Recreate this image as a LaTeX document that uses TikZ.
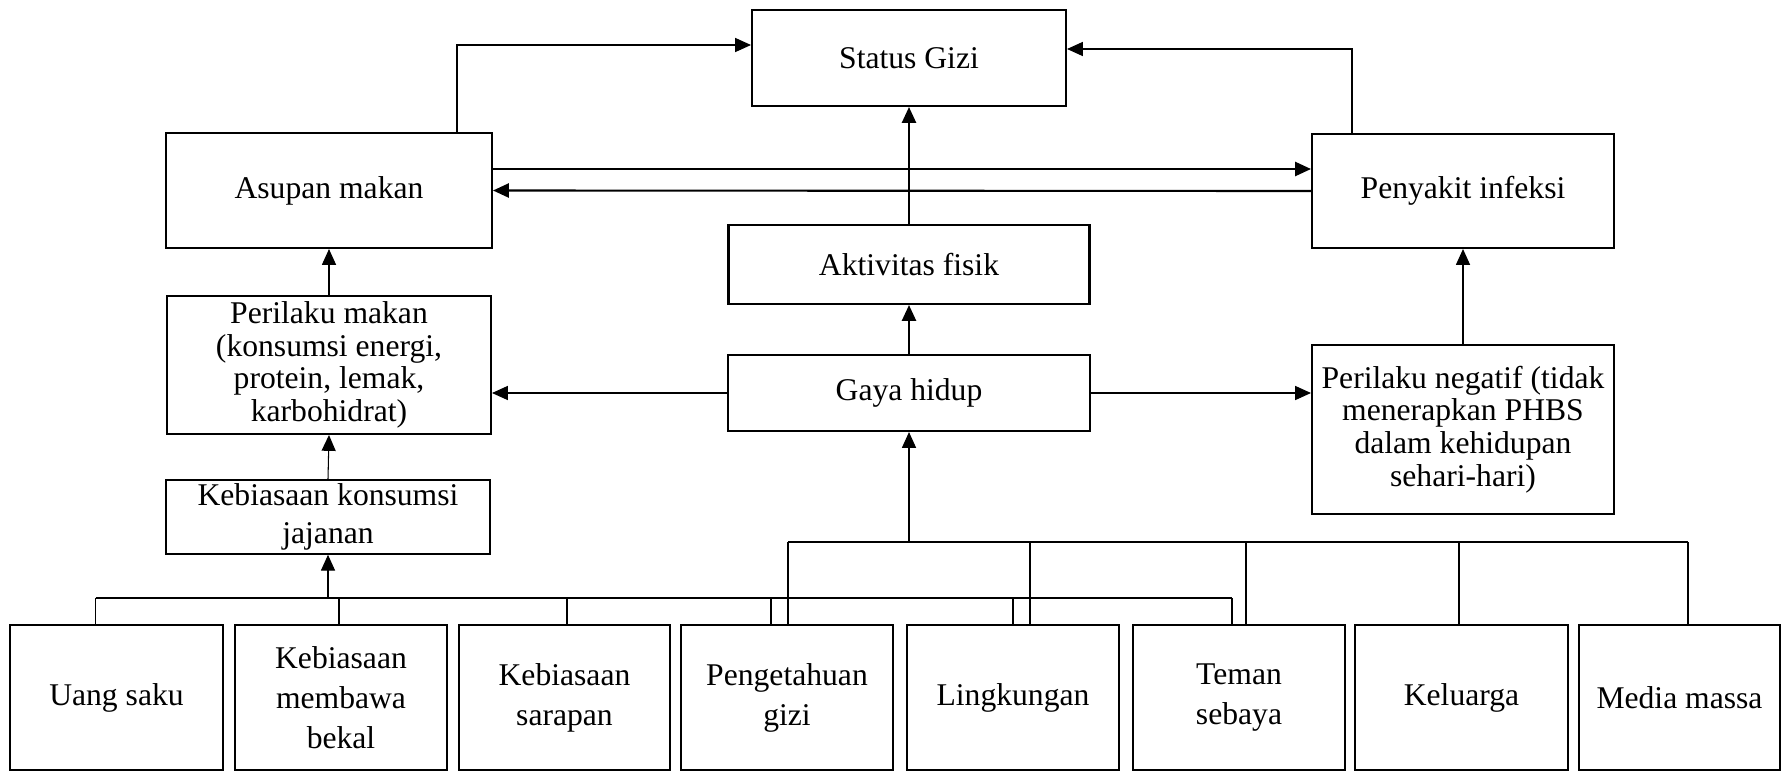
\documentclass[tikz,border=0pt]{standalone}
\usepackage{fontspec}
\setmainfont{Liberation Serif}
\usetikzlibrary{arrows.meta,positioning,calc}

\tikzset{
  kotak/.style={draw, line width=1.2pt, align=center, inner sep=2pt,
    font=\fontsize{18}{18.6}\selectfont},
  bawah/.style={minimum height=2.9cm, font=\fontsize{18}{22.7}\selectfont},
  garis/.style={line width=0.6pt},
  panah/.style={-{Triangle[length=9pt,width=8pt]}, line width=0.6pt},
  panahtebal/.style={-{Triangle[length=9pt,width=8pt]}, line width=1.2pt},
}

\begin{document}
\begin{tikzpicture}[x=0.02cm, y=-0.02cm]
\useasboundingbox (0,0) rectangle (1782,771);

% kotak utama
\node[kotak, minimum width=6.28cm, minimum height=1.92cm] (status) at (909,58) {Status Gizi};
\node[kotak, minimum width=6.52cm, minimum height=2.3cm] (asupan) at (329,190.5) {Asupan makan};
\node[kotak, minimum width=6.04cm, minimum height=2.28cm] (infeksi) at (1463,191) {Penyakit infeksi};
\node[kotak, minimum width=7.22cm, minimum height=1.58cm] (aktivitas) at (909,264.5) {Aktivitas fisik};
\node[kotak, minimum width=7.24cm, minimum height=1.52cm] (gaya) at (909,393) {Gaya hidup};
\node[kotak, minimum width=6.48cm, minimum height=2.76cm] (perilaku) at (329,365)
  {Perilaku makan\\(konsumsi energi,\\protein, lemak,\\karbohidrat)};
\node[kotak, minimum width=6.04cm, minimum height=3.38cm] (negatif) at (1463,429.5)
  {Perilaku negatif (tidak\\menerapkan PHBS\\dalam kehidupan\\sehari-hari)};
\node[kotak, minimum width=6.48cm, minimum height=1.4cm, font=\fontsize{18}{21.5}\selectfont]
  (jajanan) at (328,517) {Kebiasaan konsumsi\\jajanan};

% kotak bawah
\foreach \nama/\x/\lebar/\teks in {b1/116.5/4.26/{Uang saku}, b2/341/4.24/{Kebiasaan\\membawa\\bekal},
    b3/564.5/4.22/{Kebiasaan\\sarapan}, b4/787/4.24/{Pengetahuan\\gizi}, b5/1013/4.24/{Lingkungan},
    b6/1239/4.24/{Teman\\sebaya}, b7/1461.5/4.26/{Keluarga}, b8/1679.5/4.02/{Media massa}}
  \node[kotak, bawah, minimum width=\lebar cm] (\nama) at (\x,697.5) {\teks};

% panah atas
\coordinate (kiri) at (457,45);
\coordinate (kanan) at (1352,49);
\coordinate (atas) at (0,169);
\draw[panah] (asupan.north -| kiri) |- (status.west |- kiri);
\draw[panah] (infeksi.north -| kanan) |- (status.east |- kanan);
\draw[panahtebal] (asupan.east |- atas) -- (infeksi.west |- atas);
\draw[panahtebal] (infeksi.west) -- (asupan.east);
\draw[panahtebal] (gaya.north) -- (aktivitas.south);
\draw[panahtebal] (aktivitas.north) -- (status.south);
\draw[panah] (gaya.west) -- (perilaku.east |- gaya.west);
\draw[panah] (gaya.east) -- (negatif.west |- gaya.east);
\draw[panah] (perilaku.north) -- (asupan.south);
\draw[panah] (jajanan.north) -- (perilaku.south);
\draw[panah] (negatif.north) -- (infeksi.south);

% garis cabang
\coordinate (busL) at (0,598);
\coordinate (busR) at (0,542);
\draw[garis] ([xshift=-0.42cm]b1.north |- busL) -- ([xshift=-0.14cm]b6.north |- busL);
\foreach \b/\dx in {b1/-0.42, b2/-0.04, b3/0.05, b4/-0.32, b5/0, b6/-0.14}
  \draw[garis] ([xshift=\dx cm]\b.north) -- ([xshift=\dx cm]\b.north |- busL);
\draw[panah] (jajanan.south |- busL) -- (jajanan.south);
\draw[garis] ([xshift=0.02cm]b4.north |- busR) -- ([xshift=0.17cm]b8.north |- busR);
\foreach \b/\dx in {b4/0.02, b5/0.34, b6/0.14, b7/-0.05, b8/0.17}
  \draw[garis] ([xshift=\dx cm]\b.north) -- ([xshift=\dx cm]\b.north |- busR);
\draw[panah] (gaya.south |- busR) -- (gaya.south);
\end{tikzpicture}
\end{document}
